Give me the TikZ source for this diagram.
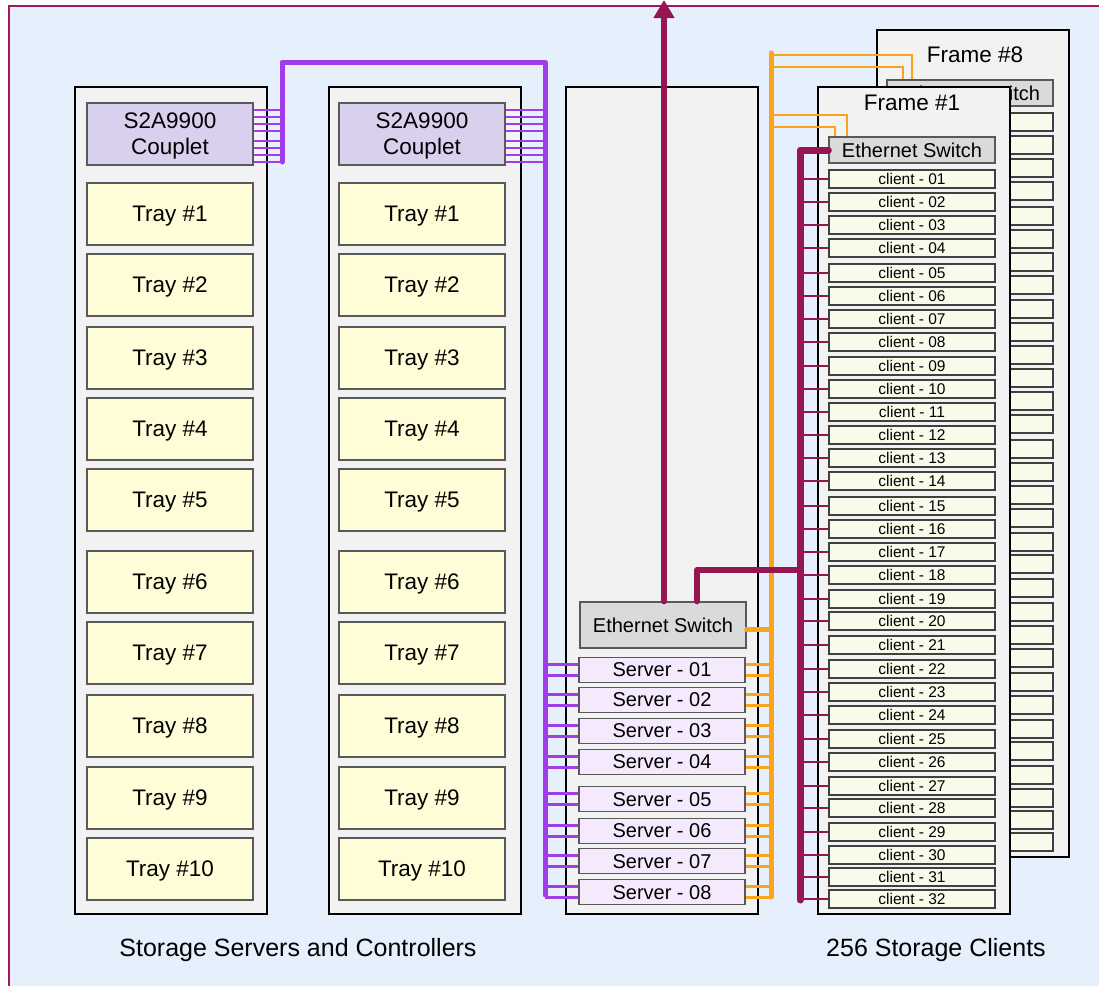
\documentclass[tikz,border=0pt]{standalone}
\usepackage{fontspec}
\setmainfont{Liberation Sans}
\usetikzlibrary{arrows.meta}

\definecolor{bgblue}{RGB}{229,240,252}
\definecolor{edgered}{RGB}{160,25,90}
\definecolor{rackgray}{RGB}{242,242,242}
\definecolor{trayyel}{RGB}{255,253,215}
\definecolor{couplv}{RGB}{217,208,238}
\definecolor{servlv}{RGB}{245,234,253}
\definecolor{swgray}{RGB}{217,218,218}
\definecolor{clientyel}{RGB}{250,250,234}
\definecolor{fcpurple}{RGB}{160,60,232}
\definecolor{ethorange}{RGB}{250,163,28}
\definecolor{ibwine}{RGB}{150,22,82}

\begin{document}
\begin{tikzpicture}[x=1pt,y=-1pt,
    every node/.style={font=\fontsize{22.5}{26}\selectfont, inner sep=0pt, text depth=0pt},
    rack/.style={draw=black, line width=2pt, fill=rackgray, minimum width=192pt, minimum height=827pt},
    tray/.style={draw=black!65, line width=1.3pt, fill=trayyel, minimum width=166pt, minimum height=62pt, align=center},
    couplet/.style={tray, fill=couplv},
    ethsw/.style={draw=black!65, line width=1.3pt, fill=swgray, minimum width=166pt, font=\fontsize{20}{22}\selectfont},
    server/.style={draw=black!65, line width=1.3pt, fill=servlv, minimum width=166pt, minimum height=25pt, font=\fontsize{20}{22}\selectfont},
    client/.style={draw=black!75, line width=1.2pt, fill=clientyel, minimum width=166pt, minimum height=18pt, font=\fontsize{15.5}{16}\selectfont},
    fcbus/.style={draw=fcpurple, line width=5pt, line cap=round, line join=round},
    fclink/.style={draw=fcpurple, line width=2.2pt},
    ethbus/.style={draw=ethorange, line width=5pt, line cap=round, line join=round},
    ethlink/.style={draw=ethorange, line width=2.2pt},
    ibbus/.style={draw=ibwine, line width=6pt, line cap=round, line join=round},
    iblink/.style={draw=ibwine, line width=2.2pt}
]
\useasboundingbox (0,0) rectangle (1099,986);
\fill[bgblue] (9,6) rectangle (1099,986);
\draw[edgered, line width=1.2pt] (9,986) -- (9,6) -- (1099,6);

% frame 8 (behind)
\node[rack] (frame8) at (972.5,443.5) {};
\node (f8label) at (975,55) {Frame \#8};
\node[ethsw, minimum height=26pt] (fsw8) at (970,93) {Ethernet Switch};
\foreach \y [count=\i] in {179,202,225,248,273,296,319,342,366,389,412,435,458,481,506,529,552,575,599,621,645,669,692,715,739,762,786,808,832,855,877,899}
    \node[client] (cl8\i) at (970,{\y-57}) {};

% storage racks
\node[rack] (rackA) at (171,500.5) {};
\node[rack] (rackB) at (425,500.5) {};
\node[rack] (rackC) at (661.5,500.5) {};

\node[couplet] (cpA) at (170,134) {S2A9900\\Couplet};
\node[couplet] (cpB) at (422,134) {S2A9900\\Couplet};
\foreach \y [count=\i] in {214,285,358,429,500,582,653,726,798,869} {
    \node[tray] (trayA\i) at (170,\y) {Tray \#\i};
    \node[tray] (trayB\i) at (422,\y) {Tray \#\i};
}

% servers
\node[ethsw, minimum height=46pt] (sw) at (663,625) {Ethernet Switch};
\foreach \y [count=\i] in {670,700,731,762,799,831,861,892}
    \node[server] (srv\i) at (662,\y) {Server - 0\i};

% frame 1
\node[rack] (frame1) at (913.5,500.5) {};
\node (f1label) at (912,103) {Frame \#1};
\node[ethsw, minimum height=26pt] (fsw1) at (912,150) {Ethernet Switch};
\foreach \y [count=\i] in {179,202,225,248,273,296,319,342,366,389,412,435,458,481,506,529,552,575,599,621,645,669,692,715,739,762,786,808,832,855,877,899} {
    \ifnum\i<10
        \node[client] (cl\i) at (912,\y) {client - 0\i};
    \else
        \node[client] (cl\i) at (912,\y) {client - \i};
    \fi
}

\node[font=\fontsize{25}{28}\selectfont] (lblstore) at (298,947) {Storage Servers and Controllers};
\node[font=\fontsize{25}{28}\selectfont] (lblclient) at (936,947) {256 Storage Clients};

% fibre channel
\coordinate (fcAtop) at (282,62);
\coordinate (fcAbot) at (282,162);
\coordinate (fcBtop) at (545,62);
\coordinate (fcBbot) at (545,895);
\foreach \y in {110,117,124,131,141,148,155,162} {
    \draw[fclink] (cpA.east |- 0,\y) -- (fcAbot |- 0,\y);
    \draw[fclink] (cpB.east |- 0,\y) -- (fcBbot |- 0,\y);
}
\foreach \i in {1,...,8} {
    \coordinate (sla) at ([yshift=5.5pt]srv\i.west);
    \coordinate (slb) at ([yshift=-5.5pt]srv\i.west);
    \draw[fclink] (fcBbot |- sla) -- (sla);
    \draw[fclink] (fcBbot |- slb) -- (slb);
}
\draw[fcbus] (fcAbot) -- (fcAtop) -- (fcBtop) -- (fcBbot);

% ethernet
\coordinate (ethtop) at (771,53);
\coordinate (ethbot) at (771,897);
\foreach \i in {1,...,8} {
    \coordinate (sra) at ([yshift=5.5pt]srv\i.east);
    \coordinate (srb) at ([yshift=-5.5pt]srv\i.east);
    \draw[ethlink] (sra) -- (ethbot |- sra);
    \draw[ethlink] (srb) -- (ethbot |- srb);
}
\draw[ethlink] (ethtop |- 0,55) -| ([xshift=-58pt]fsw8.north);
\draw[ethlink] (ethtop |- 0,67) -| ([xshift=-67pt]fsw8.north);
\draw[ethlink] (ethtop |- 0,115) -| ([xshift=-65pt]fsw1.north);
\draw[ethlink] (ethtop |- 0,127) -| ([xshift=-77pt]fsw1.north);
\coordinate (swport) at ([yshift=-4pt]sw.east);
\draw[ethbus] (swport) -- (ethtop |- swport);
\draw[ethbus] (ethtop) -- (ethbot);

% infiniband
\coordinate (ibtop) at (800,149);
\coordinate (ibbot) at (800,900);
\coordinate (uplink) at (664,0);
\foreach \i in {1,...,32}
    \draw[iblink] (ibtop |- cl\i.west) -- (cl\i.west);
\draw[ibbus, -{Triangle[width=20pt,length=18pt]}] (sw.north -| uplink) -- (uplink);
\draw[ibbus] ([xshift=34pt]sw.north) |- (ibtop |- 0,570);
\draw[ibbus, line width=7pt] (ibbot) -- (ibtop |- fsw1.west) -- (fsw1.west);

\end{tikzpicture}
\end{document}
